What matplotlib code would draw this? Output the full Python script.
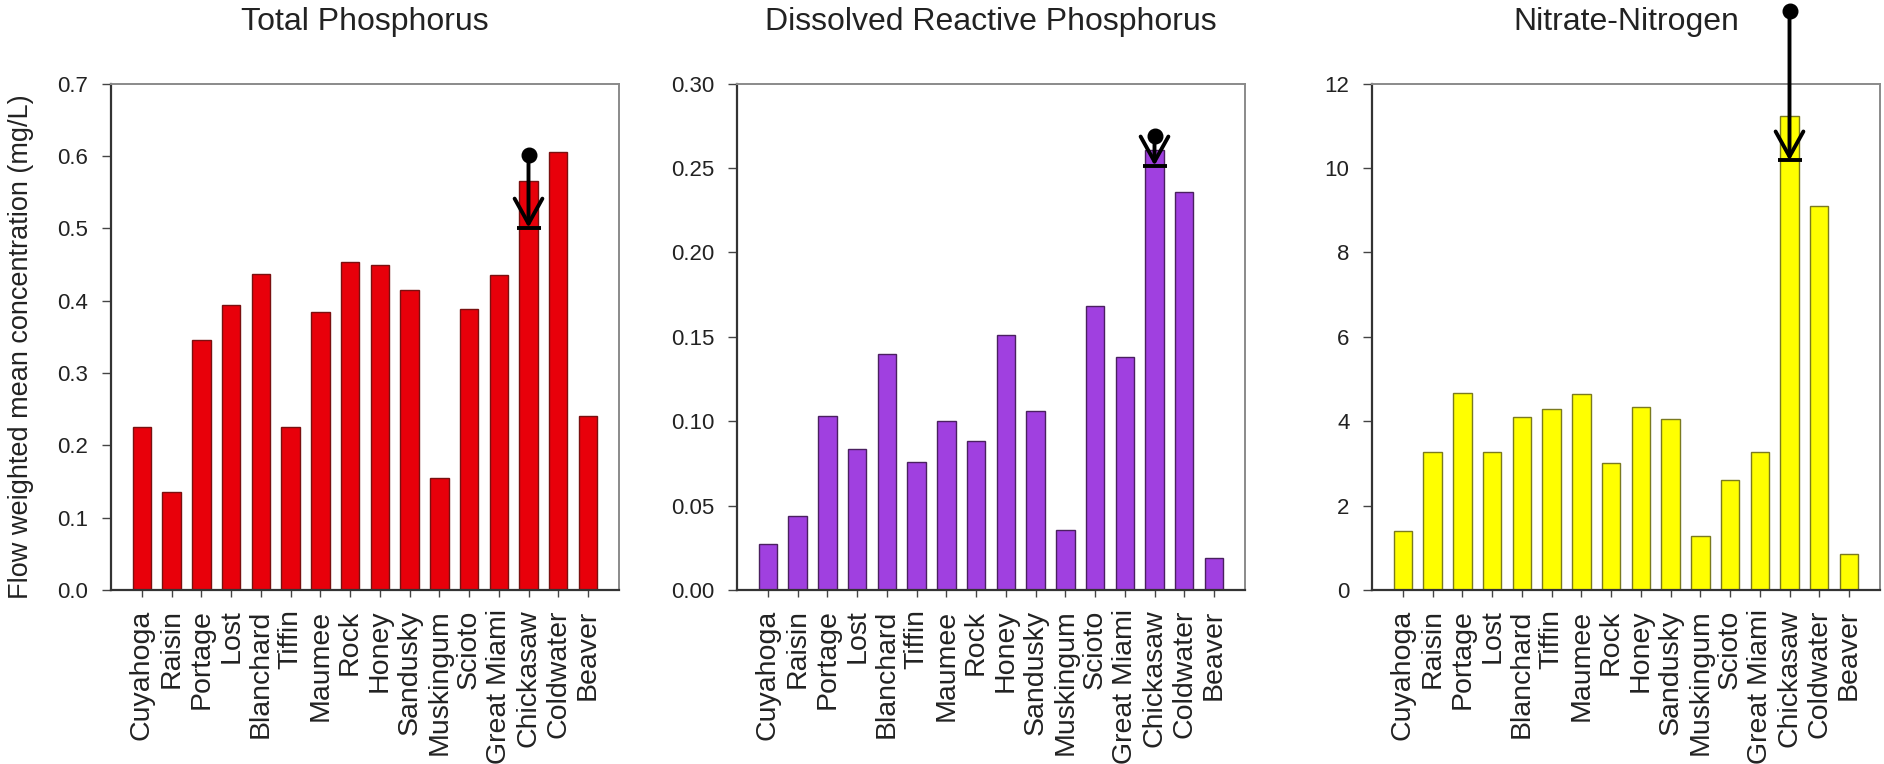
import matplotlib
matplotlib.use("Agg")
import matplotlib.pyplot as plt
import numpy as np

plt.rcParams['font.family'] = ['Liberation Sans', 'DejaVu Sans']

# Watersheds (x-axis categories, same order in every panel)
rivers = ["Cuyahoga", "Raisin", "Portage", "Lost", "Blanchard", "Tiffin",
          "Maumee", "Rock", "Honey", "Sandusky", "Muskingum", "Scioto",
          "Great Miami", "Chickasaw", "Coldwater", "Beaver"]

# Flow weighted mean concentrations (mg/L)
total_p = [0.225, 0.136, 0.346, 0.394, 0.437, 0.226, 0.384, 0.454,
           0.450, 0.415, 0.155, 0.388, 0.435, 0.566, 0.605, 0.240]
drp = [0.0274, 0.0441, 0.1033, 0.0834, 0.140, 0.0759, 0.1004, 0.088,
       0.151, 0.106, 0.0358, 0.168, 0.138, 0.261, 0.236, 0.019]
nitrate = [1.41, 3.28, 4.68, 3.28, 4.11, 4.29, 4.64, 3.02,
           4.33, 4.06, 1.28, 2.61, 3.28, 11.24, 9.10, 0.85]

titles = ["Total Phosphorus", "Dissolved Reactive Phosphorus", "Nitrate-Nitrogen"]
series = [total_p, drp, nitrate]

# Chickasaw change: earlier value (dot) down to later value (arrow tip)
arrow_site = "Chickasaw"
arrow_from = [0.602, 0.269, 13.73]
arrow_to = [0.501, 0.2515, 10.18]

# Y-axis ticks
yticks = [np.arange(0, 0.71, 0.1), np.arange(0, 0.301, 0.05), np.arange(0, 12.1, 2)]
ytick_fmt = ["{:.1f}", "{:.2f}", "{:.0f}"]
ylims = [(0, 0.7), (0, 0.30), (0, 12)]

face_colors = ["#E8000A", "#A040E0", "#FFFF00"]
edge_colors = ["#7A1010", "#4A2060", "#7A7A20"]

text_color = "#222222"

fig = plt.figure(figsize=(18.84, 7.64), dpi=100)
W, H = 1884, 764
lefts = [110.7, 736.7, 1371.7]
ax_w = 508.5
ax_top, ax_bot = 83.7, 590.0

x = np.arange(len(rivers))
k = rivers.index(arrow_site)

for i in range(3):
    ax = fig.add_axes([lefts[i] / W, 1 - ax_bot / H, ax_w / W, (ax_bot - ax_top) / H])
    ax.bar(x, series[i], width=0.62, color=face_colors[i],
           edgecolor=edge_colors[i], linewidth=1.0, zorder=2)
    ax.set_xlim(-1.05, len(rivers) - 1 + 1.05)
    ax.set_ylim(*ylims[i])
    ax.set_yticks(yticks[i])
    ax.set_yticklabels([ytick_fmt[i].format(v) for v in yticks[i]])
    ax.set_xticks(x)
    ax.set_xticklabels(rivers, rotation=90, ha='center', va='top')
    ax.tick_params(axis='y', direction='out', length=6.5, width=1.0,
                   pad=9.5, labelsize=16, colors="#444444", labelcolor=text_color)
    ax.tick_params(axis='x', direction='out', length=5, width=1.0,
                   pad=9, labelsize=20.5, colors="#444444", labelcolor=text_color)
    for side in ("left", "bottom"):
        ax.spines[side].set_color("#333333")
        ax.spines[side].set_linewidth(1.6)
    for side in ("top", "right"):
        ax.spines[side].set_color("#8A8A8A")
        ax.spines[side].set_linewidth(1.4)
    ax.set_title(titles[i], fontsize=23, color=text_color, pad=0,
                 y=(ax_bot - 22) / (ax_bot - ax_top), va='center')

    # arrow showing the change at Chickasaw
    ax.annotate('', xy=(x[k], arrow_to[i]), xytext=(x[k], arrow_from[i]),
                arrowprops=dict(arrowstyle='->,head_length=0.9,head_width=0.5',
                                mutation_scale=20, lw=2.8, color='black',
                                shrinkA=0, shrinkB=0),
                annotation_clip=False, zorder=5)
    ax.plot([x[k]], [arrow_from[i]], marker='o', markersize=10.5,
            color='black', clip_on=False, zorder=6)
    ax.plot([x[k]], [arrow_to[i]], marker='_', markersize=17, mew=2.8,
            color='black', clip_on=False, zorder=6)

    if i == 0:
        ax.set_ylabel("Flow weighted mean concentration (mg/L)", fontsize=19.5,
                      color=text_color)
        ax.yaxis.set_label_coords((34 - lefts[0]) / ax_w, 0.48)

fig.savefig("out.png", dpi=100, facecolor="white")
